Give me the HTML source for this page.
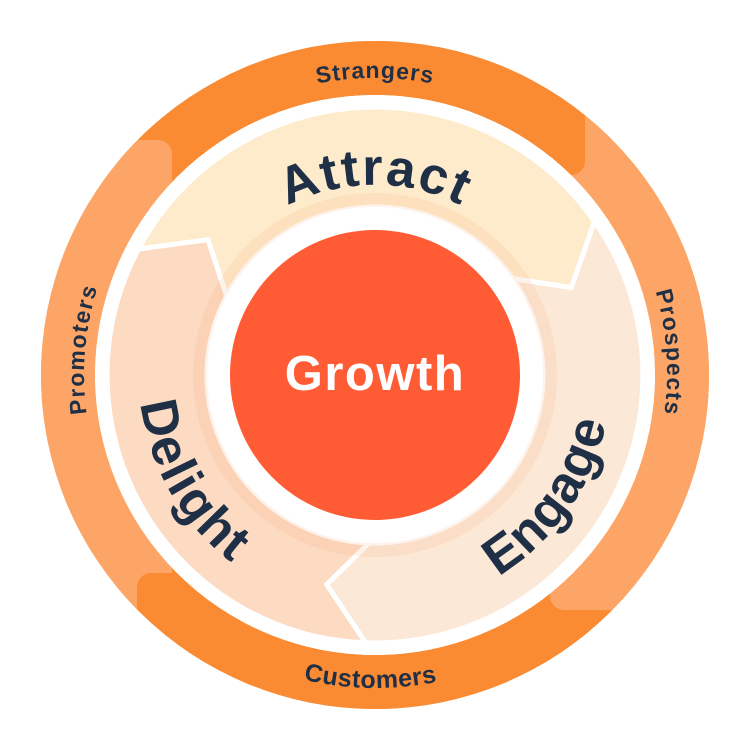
<!DOCTYPE html>
<html><head><meta charset="utf-8"><style>
html,body{margin:0;padding:0;background:#fff;}
svg{display:block;}
text{font-family:"Liberation Sans",sans-serif;font-weight:bold;}
</style></head><body>
<svg width="750" height="750" viewBox="0 0 750 750" xmlns="http://www.w3.org/2000/svg">
<defs>
<clipPath id="ring"><path clip-rule="evenodd" d="M41,375a334,334 0 1,0 668,0a334,334 0 1,0 -668,0Z M95,375a280,280 0 1,0 560,0a280,280 0 1,0 -560,0Z"/></clipPath>
<path id="pAttract" d="M196.4,310 A190 190 0 0 1 553.6,310"/>
<path id="pStr" d="M147.5,184 A297 297 0 0 1 602.5,184"/>
<path id="pCust" d="M167.8,609.3 A313 313 0 0 0 575.2,615.8"/>
<path id="pPros" d="M616.2,208.2 A291 291 0 0 1 636.5,502.6"/>
<path id="pProm" d="M111.3,498 A291 291 0 0 1 136.7,208.1"/>
<path id="pEng" d="M395.6,610.1 A236 236 0 0 0 603,313.9"/>
<path id="pDel" d="M153.2,294.3 A236 236 0 0 0 334,607.4"/>
</defs>
<g clip-path="url(#ring)">
<rect x="0" y="0" width="750" height="750" fill="#FA8B33"/>
<rect x="550" y="-20" width="220" height="630" rx="14" fill="#FCA566"/>
<rect x="-20" y="-20" width="605" height="195" rx="14" fill="#FA8B33"/>
<rect x="-20" y="140" width="192" height="640" rx="14" fill="#FCA566"/>
<rect x="137" y="573" width="413" height="200" rx="14" fill="#FA8B33"/>
<rect x="530" y="610" width="240" height="160" fill="#FA8B33"/>
</g>
<circle cx="375" cy="375" r="280" fill="#fff"/>
<g stroke="#fff" stroke-width="5" stroke-linejoin="round">
<path fill="#FEEBCB" d="M138.4 249.2 A268 268 0 0 1 594.5 221.3 L571.4 287.6 L512.6 278.6 A168 168 0 0 0 226.7 296.1 L207.9 239.7 Z"/>
<path fill="#FCE8D6" d="M594.5 221.3 A268 268 0 0 1 365.6 642.8 L326.6 584.5 L369.1 542.9 A168 168 0 0 0 512.6 278.6 L571.4 287.6 Z"/>
<path fill="#FDDAC2" d="M365.6 642.8 A268 268 0 0 1 138.4 249.2 L207.9 239.7 L226.7 296.1 A168 168 0 0 0 369.1 542.9 L326.6 584.5 Z"/>
</g>
<circle cx="375" cy="375" r="175" fill="none" stroke="#F5A060" stroke-opacity="0.12" stroke-width="14"/>
<circle cx="375" cy="375" r="168" fill="#fff"/>
<circle cx="375" cy="375" r="145" fill="#FF5C35"/>
<text x="375" y="390" text-anchor="middle" font-size="49" fill="#fff" letter-spacing="1.5">Growth</text>
<g fill="#1F2F45">
<text font-size="52" letter-spacing="2"><textPath href="#pAttract" startOffset="50%" text-anchor="middle">Attract</textPath></text>
<text font-size="52" letter-spacing="1"><textPath href="#pEng" startOffset="50%" text-anchor="middle">Engage</textPath></text>
<text font-size="52" letter-spacing="2"><textPath href="#pDel" startOffset="50%" text-anchor="middle">Delight</textPath></text>
<text font-size="23" letter-spacing="1"><textPath href="#pStr" startOffset="50%" text-anchor="middle">Strangers</textPath></text>
<text font-size="25" letter-spacing="0.5"><textPath href="#pCust" startOffset="50%" text-anchor="middle">Customers</textPath></text>
<text font-size="23" letter-spacing="1.5"><textPath href="#pPros" startOffset="50%" text-anchor="middle">Prospects</textPath></text>
<text font-size="23" letter-spacing="1.5"><textPath href="#pProm" startOffset="50%" text-anchor="middle">Promoters</textPath></text>
</g>
</svg>
</body></html>
